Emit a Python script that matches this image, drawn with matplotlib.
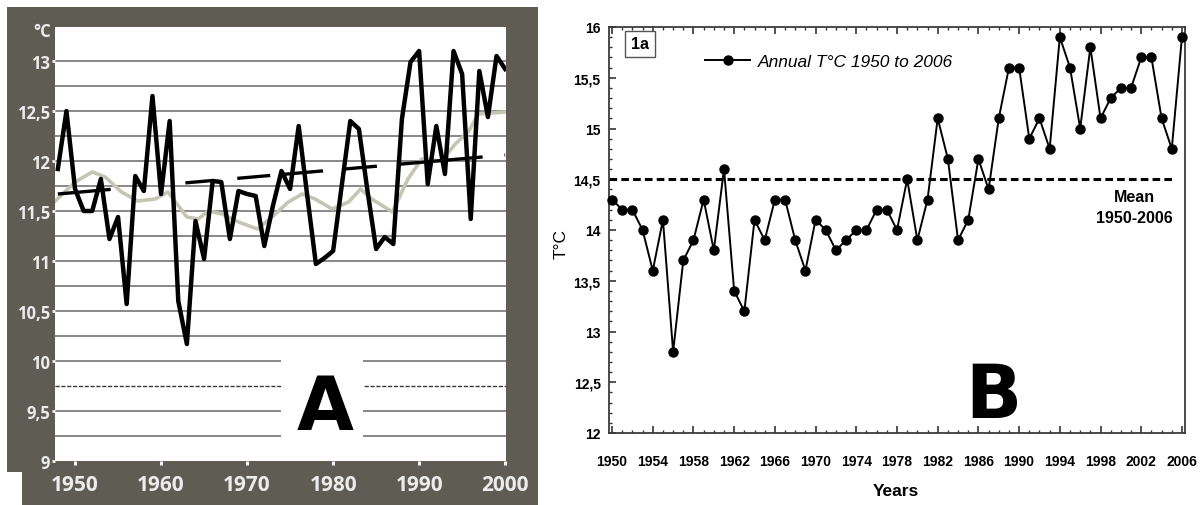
import matplotlib
matplotlib.use("Agg")
import matplotlib.pyplot as plt
from matplotlib.patches import Rectangle
from matplotlib.ticker import FixedLocator, MultipleLocator

plt.rcParams['lines.scale_dashes'] = False

# ---------------- data: panel A ----------------
years_a = list(range(1948, 2001))
temp_a = [11.92, 12.50, 11.72, 11.50, 11.50, 11.82, 11.22, 11.44, 10.57, 11.85,
          11.70, 12.65, 11.67, 12.40, 10.60, 10.17, 11.40, 11.02, 11.80, 11.79,
          11.22, 11.70, 11.67, 11.65, 11.15, 11.55, 11.90, 11.72, 12.35, 11.65,
          10.97, 11.03, 11.10, 11.75, 12.40, 12.32, 11.70, 11.12, 11.24, 11.17,
          12.42, 12.99, 13.10, 11.77, 12.35, 11.87, 13.10, 12.87, 11.42, 12.90,
          12.44, 13.05, 12.92]
smooth_years_a = [1947.7, 1950.0, 1952.0, 1953.5, 1955.4, 1957.3, 1959.3, 1960.8,
                  1963.0, 1964.3, 1965.5, 1967.1, 1969.0, 1971.2, 1972.9, 1974.8,
                  1976.4, 1977.9, 1979.9, 1981.8, 1983.2, 1984.5, 1986.9, 1988.7,
                  1990.3, 1992.6, 1994.2, 1995.7, 1996.9, 2000.0]
smooth_a = [11.60, 11.79, 11.89, 11.84, 11.69, 11.60, 11.62, 11.69,
            11.44, 11.42, 11.50, 11.47, 11.39, 11.32, 11.44, 11.59,
            11.67, 11.62, 11.52, 11.59, 11.72, 11.62, 11.49, 11.82,
            12.02, 12.00, 12.17, 12.29, 12.47, 12.49]
trend_years_a = [1948, 2000]
trend_a = [11.67, 12.06]
break_level_a = 9.75
grid_levels_a = [9.25, 9.5, 10.0, 10.25, 10.5, 10.75, 11.0, 11.25, 11.5, 11.75,
                 12.0, 12.25, 12.5, 12.75, 13.0]
yticks_a = [9, 9.5, 10, 10.5, 11, 11.5, 12, 12.5, 13]
xticks_a = [1950, 1960, 1970, 1980, 1990, 2000]

# ---------------- data: panel B ----------------
years_b = list(range(1950, 2007))
temp_b = [14.3, 14.2, 14.2, 14.0, 13.6, 14.1, 12.8, 13.7, 13.9, 14.3,
          13.8, 14.6, 13.4, 13.2, 14.1, 13.9, 14.3, 14.3, 13.9, 13.6,
          14.1, 14.0, 13.8, 13.9, 14.0, 14.0, 14.2, 14.2, 14.0, 14.5,
          13.9, 14.3, 15.1, 14.7, 13.9, 14.1, 14.7, 14.4, 15.1, 15.6,
          15.6, 14.9, 15.1, 14.8, 15.9, 15.6, 15.0, 15.8, 15.1, 15.3,
          15.4, 15.4, 15.7, 15.7, 15.1, 14.8, 15.9]
mean_b = 14.5
xticks_b = list(range(1950, 2007, 4))
yticks_b = [12, 12.5, 13, 13.5, 14, 14.5, 15, 15.5, 16]
legend_label_b = 'Annual T°C 1950 to 2006'


def comma(v):
    return f"{v:g}".replace('.', ',')


W, H = 1200, 506
fig = plt.figure(figsize=(12, 5.06), dpi=100)
fig.patch.set_facecolor('white')


def fx(px):
    return px / W


def fy(py):
    return 1 - py / H


FRAME = '#5f5c54'
LIGHT = '#ececec'

# ---------------- panel A frame ----------------
fig.add_artist(Rectangle((fx(7), 0), fx(538) - fx(7), fy(8), facecolor=FRAME,
                         edgecolor='none', transform=fig.transFigure, zorder=0))
fig.add_artist(Rectangle((fx(7), 0), fx(22) - fx(7), fy(473), facecolor='white',
                         edgecolor='none', transform=fig.transFigure, zorder=0.5))

axA = fig.add_axes([fx(55), fy(462), fx(506) - fx(55), fy(28) - fy(462)])
axA.set_facecolor('white')
for s in axA.spines.values():
    s.set_visible(False)
axA.set_xlim(1947.67, 2000.1)
axA.set_ylim(9, 13.34)

for g in grid_levels_a:
    axA.axhline(g, color='#7f7f7f', lw=1.3, zorder=1)
axA.axhline(break_level_a, color='#3a3a3a', lw=1.0, linestyle=(0, (3, 1.2)), zorder=1)

axA.plot(smooth_years_a, smooth_a, color='#c6c5b3', lw=2.6, zorder=2)
trend_dash = (0, (38.2, 54, 20.2, 17.3, 23.8, 9.4, 28.8, 14.4, 24.5, 14.4, 62, 15.8, 2.2, 10))
axA.plot(trend_years_a, trend_a, color='black', lw=2.4, linestyle=trend_dash,
         dash_capstyle='butt', zorder=3)
axA.plot(years_a, temp_a, color='black', lw=3.2, zorder=4)

axA.add_patch(Rectangle((0.501, 0), 0.182, 0.258, transform=axA.transAxes,
                        facecolor='white', edgecolor='none', zorder=5))
axA.text((325 - 55) / 451, (462 - 430) / 434, 'A', transform=axA.transAxes,
         ha='center', va='baseline', fontsize=53, fontweight='bold',
         family='DejaVu Sans', color='black', zorder=6)

axA.set_xticks(xticks_a, labels=[str(v) for v in xticks_a], fontfamily='Open Sans',
               fontweight='bold', fontsize=15, color=LIGHT)
axA.set_yticks(yticks_a, labels=[comma(v) for v in yticks_a], fontfamily='Open Sans',
               fontweight='bold', fontsize=12, color=LIGHT)
axA.tick_params(axis='x', direction='out', length=3, width=2.2, pad=6.5, color='#f4f4f4')
axA.tick_params(axis='y', direction='out', length=2.5, width=2, pad=1.2, color='#f4f4f4')
fig.text(fx(42), fy(32), '°C', ha='center', va='center', color=LIGHT,
         fontsize=12, family='Open Sans', weight='bold')

# ---------------- panel B ----------------
axB = fig.add_axes([fx(609), fy(434), fx(1185) - fx(609), fy(28) - fy(434)])
axB.set_facecolor('white')
axB.set_xlim(1949.7, 2006.3)
axB.set_ylim(12, 16)
for s in axB.spines.values():
    s.set_color('#3c3c3c')
    s.set_linewidth(1.3)

axB.axhline(mean_b, xmax=0.983, color='black', lw=2.2, linestyle=(0, (5.5, 3)), zorder=2)
axB.plot(years_b, temp_b, color='black', lw=1.4, marker='o', ms=6.5, mfc='black',
         mec='black', label=legend_label_b, zorder=3, clip_on=False)

axB.xaxis.set_major_locator(FixedLocator(xticks_b))
axB.xaxis.set_minor_locator(MultipleLocator(1))
axB.yaxis.set_major_locator(FixedLocator(yticks_b))
axB.yaxis.set_minor_locator(MultipleLocator(0.1))
axB.set_xticklabels([str(v) for v in xticks_b], fontfamily='Liberation Sans',
                    fontweight='bold', fontsize=10)
axB.set_yticklabels([comma(v) for v in yticks_b], fontfamily='Liberation Sans',
                    fontweight='bold', fontsize=10)
axB.tick_params(which='major', direction='in', length=5, width=1.2, top=True,
                right=False, color='#333333')
axB.tick_params(which='minor', direction='in', length=2.5, width=1.0, top=True,
                right=False, color='#333333')
axB.tick_params(axis='x', which='major', pad=15)
axB.tick_params(axis='y', which='major', pad=6)

axB.legend(loc='center left', bbox_to_anchor=(fx(705), fy(62)), bbox_transform=fig.transFigure,
           frameon=False, handlelength=2.6, handletextpad=0.45, borderpad=0,
           borderaxespad=0, numpoints=1,
           prop={'family': 'Liberation Sans', 'style': 'italic', 'size': 12.5})

axB.text((640 - 609) / 576, (434 - 45) / 406, '1a', transform=axB.transAxes,
         ha='center', va='center', fontsize=11.5, weight='bold', family='Liberation Sans',
         bbox=dict(boxstyle='square,pad=0.35', fc='white', ec='#555555', lw=1))

fig.text(fx(1134), fy(208), 'Mean\n1950-2006', ha='center', va='center', fontsize=11.5,
         weight='bold', family='Liberation Sans', linespacing=1.45)
fig.text(fx(993), fy(418), 'B', ha='center', va='baseline', fontsize=53,
         weight='bold', family='DejaVu Sans')
fig.text(fx(896), fy(492), 'Years', ha='center', va='center', fontsize=12.5,
         weight='bold', family='Liberation Sans')
fig.text(fx(561), fy(244), 'T°C', ha='center', va='center', rotation=90,
         fontsize=12.5, family='Liberation Sans')

fig.savefig('out.png', dpi=100, facecolor='white')
